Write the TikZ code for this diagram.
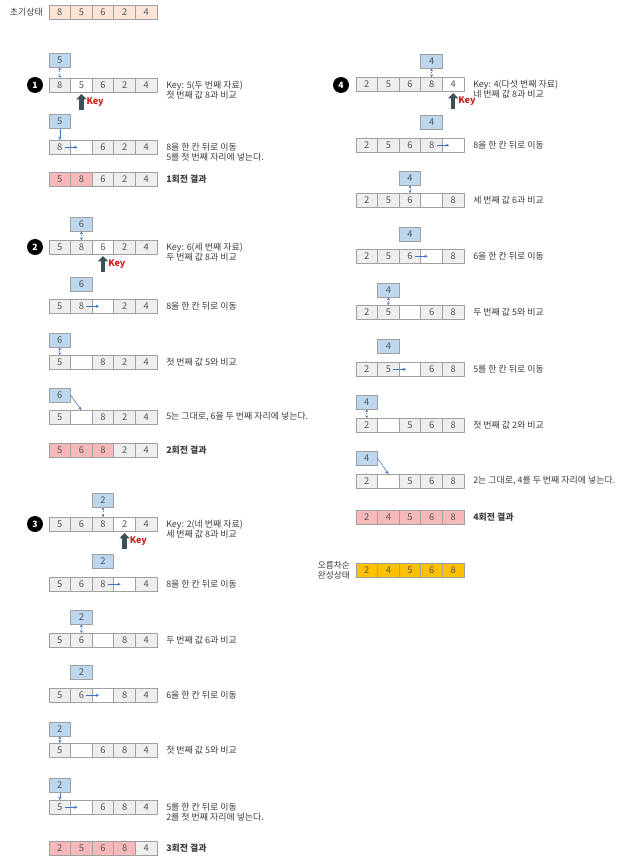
\documentclass[tikz,border=0pt]{standalone}
\usepackage{fontspec}
\setmainfont{Noto Sans CJK KR}
\usetikzlibrary{calc,arrows.meta}
\definecolor{txt}{HTML}{3F3F3F}
\definecolor{numtxt}{HTML}{555555}
\definecolor{grid}{HTML}{A0A0A0}
\definecolor{cellgray}{HTML}{EEEEEE}
\definecolor{keyblue}{HTML}{BDD7EE}
\definecolor{hlpink}{HTML}{F6B8B8}
\definecolor{peach}{HTML}{FCE4D6}
\definecolor{gold}{HTML}{FFC000}
\definecolor{lineblue}{HTML}{4472C4}
\definecolor{arrowdark}{HTML}{3C5055}
\definecolor{keyred}{HTML}{CC1F1F}

% one row of five cells: name prefix, left x, top y, value/style list
\newcommand\cellrow[4]{%
  \foreach \v/\s [count=\i] in {#4} {%
    \node[cell,\s] (#1-\i) at ({#2+(\i-0.5)*21.6},{#3+7.25}) {\v};
  }}
% the key value box above a row: name, left x, column, top y, value
\newcommand\keycell[5]{%
  \node[keybox] (#1) at ({#2+(#3-0.5)*21.6},{#4+7.25}) {#5};}
% thick arrow with the red "Key" tag under a cell
\newcommand\keymark[1]{%
  \draw[keyarrow] ($(#1.south)+(0,17)$) -- ($(#1.south)+(0,1.5)$);
  \node[keylbl,anchor=west] (#1-key) at ($(#1.south)+(5,10)$) {Key};}
% shift arrow from one cell's value into the next cell
\newcommand\shiftarrow[2]{%
  \draw[mv] ($(#1.center)+(5,0)$) -- ($(#2.center)+(-4,0)$);}

\begin{document}
\begin{tikzpicture}[x=0.75pt,y=-0.75pt,
  every node/.style={font=\fontsize{6.7}{8}\selectfont,text=txt},
  cell/.style={draw=grid,line width=0.5pt,minimum width=16.2pt,minimum height=10.9pt,
    inner sep=0pt,outer sep=0pt,font=\fontsize{7}{8}\selectfont,text=numtxt},
  nrm/.style={fill=cellgray},
  emp/.style={fill=white},
  hl/.style={fill=hlpink},
  ini/.style={fill=peach},
  fin/.style={fill=gold},
  keybox/.style={cell,fill=keyblue},
  lbl/.style={inner sep=0pt,font=\fontsize{6.7}{8}\selectfont},
  bold/.style={font=\fontsize{6.7}{8}\selectfont\bfseries},
  stepno/.style={circle,fill=black,text=white,minimum size=12pt,inner sep=0pt,
    font=\fontsize{6.5}{7}\selectfont\bfseries},
  keyarrow/.style={draw=arrowdark,line width=3.2pt,-{Triangle[length=4pt,width=7.5pt]}},
  keylbl/.style={inner sep=0pt,text=keyred,font=\fontsize{6.8}{8}\selectfont\bfseries},
  cmp/.style={draw=lineblue,line width=0.7pt,densely dotted,
    {Stealth[length=2pt,width=2.2pt]}-{Stealth[length=2pt,width=2.2pt]}},
  mv/.style={draw=lineblue,line width=0.4pt,-{Stealth[length=2.4pt,width=2.4pt]}},
]
\fill[white] (0,0) rectangle (642,859);
\useasboundingbox (0,0) rectangle (642,859);

% ---------- initial state ----------
\node[lbl,anchor=east] (lab0) at (43,12) {초기상태};
\cellrow{r0}{49}{5}{8/ini,5/ini,6/ini,2/ini,4/ini}

% ---------- pass 1 ----------
\node[stepno] (n1) at (35,85) {1};
\keycell{k1a}{49}{1}{53}{5}
\cellrow{r1a}{49}{78}{8/nrm,5/emp,6/nrm,2/nrm,4/nrm}
\draw[cmp] (k1a) -- (r1a-1);
\keymark{r1a-2}
\node[lbl,anchor=north west,align=left] (t1a) at (166,80.5) {Key: 5(두 번째 자료)\\첫 번째 값 8과 비교};

\keycell{k1b}{49}{1}{114}{5}
\cellrow{r1b}{49}{140}{8/nrm,{}/emp,6/nrm,2/nrm,4/nrm}
\draw[mv] (k1b) -- (r1b-1);
\shiftarrow{r1b-1}{r1b-2}
\node[lbl,anchor=north west,align=left] (t1b) at (166,142.5) {8을 한 칸 뒤로 이동\\5를 첫 번째 자리에 넣는다.};

\cellrow{r1c}{49}{172}{5/hl,8/hl,6/nrm,2/nrm,4/nrm}
\node[lbl,bold,anchor=west] (t1c) at (166,179) {1회전 결과};

% ---------- pass 2 ----------
\node[stepno] (n2) at (35,247) {2};
\keycell{k2a}{49}{2}{217}{6}
\cellrow{r2a}{49}{240}{5/nrm,8/nrm,6/emp,2/nrm,4/nrm}
\draw[cmp] (k2a) -- (r2a-2);
\keymark{r2a-3}
\node[lbl,anchor=north west,align=left] (t2a) at (166,242.5) {Key: 6(세 번째 자료)\\두 번째 값 8과 비교};

\keycell{k2b}{49}{2}{277}{6}
\cellrow{r2b}{49}{299}{5/nrm,8/nrm,{}/emp,2/nrm,4/nrm}
\shiftarrow{r2b-2}{r2b-3}
\node[lbl,anchor=west] (t2b) at (166,306) {8을 한 칸 뒤로 이동};

\keycell{k2c}{49}{1}{333}{6}
\cellrow{r2c}{49}{355}{5/nrm,{}/emp,8/nrm,2/nrm,4/nrm}
\draw[cmp] (k2c) -- (r2c-1);
\node[lbl,anchor=west] (t2c) at (166,362) {첫 번째 값 5와 비교};

\keycell{k2d}{49}{1}{388}{6}
\cellrow{r2d}{49}{410}{5/nrm,{}/emp,8/nrm,2/nrm,4/nrm}
\draw[mv] (k2d.east) -- (r2d-2.north);
\node[lbl,anchor=west] (t2d) at (166,417) {5는 그대로, 6을 두 번째 자리에 넣는다.};

\cellrow{r2e}{49}{443}{5/hl,6/hl,8/hl,2/nrm,4/nrm}
\node[lbl,bold,anchor=west] (t2e) at (166,450) {2회전 결과};

% ---------- pass 3 ----------
\node[stepno] (n3) at (35,524) {3};
\keycell{k3a}{49}{3}{493}{2}
\cellrow{r3a}{49}{517}{5/nrm,6/nrm,8/nrm,2/emp,4/nrm}
\draw[cmp] (k3a) -- (r3a-3);
\keymark{r3a-4}
\node[lbl,anchor=north west,align=left] (t3a) at (166,519.5) {Key: 2(네 번째 자료)\\세 번째 값 8과 비교};

\keycell{k3b}{49}{3}{554}{2}
\cellrow{r3b}{49}{577}{5/nrm,6/nrm,8/nrm,{}/emp,4/nrm}
\shiftarrow{r3b-3}{r3b-4}
\node[lbl,anchor=west] (t3b) at (166,584) {8을 한 칸 뒤로 이동};

\keycell{k3c}{49}{2}{610}{2}
\cellrow{r3c}{49}{633}{5/nrm,6/nrm,{}/emp,8/nrm,4/nrm}
\draw[cmp] (k3c) -- (r3c-2);
\node[lbl,anchor=west] (t3c) at (166,640) {두 번째 값 6과 비교};

\keycell{k3d}{49}{2}{665}{2}
\cellrow{r3d}{49}{688}{5/nrm,6/nrm,{}/emp,8/nrm,4/nrm}
\shiftarrow{r3d-2}{r3d-3}
\node[lbl,anchor=west] (t3d) at (166,695) {6을 한 칸 뒤로 이동};

\keycell{k3e}{49}{1}{722}{2}
\cellrow{r3e}{49}{743}{5/nrm,{}/emp,6/nrm,8/nrm,4/nrm}
\draw[cmp] (k3e) -- (r3e-1);
\node[lbl,anchor=west] (t3e) at (166,750) {첫 번째 값 5와 비교};

\keycell{k3f}{49}{1}{778}{2}
\cellrow{r3f}{49}{800}{5/nrm,{}/emp,6/nrm,8/nrm,4/nrm}
\draw[mv] (k3f) -- (r3f-1);
\shiftarrow{r3f-1}{r3f-2}
\node[lbl,anchor=north west,align=left] (t3f) at (166,802.5) {5를 한 칸 뒤로 이동\\2를 첫 번째 자리에 넣는다.};

\cellrow{r3g}{49}{841}{2/hl,5/hl,6/hl,8/hl,4/nrm}
\node[lbl,bold,anchor=west] (t3g) at (166,848) {3회전 결과};

% ---------- pass 4 ----------
\node[stepno] (n4) at (341,85) {4};
\keycell{k4a}{356}{4}{54}{4}
\cellrow{r4a}{356}{77}{2/nrm,5/nrm,6/nrm,8/nrm,4/emp}
\draw[cmp] (k4a) -- (r4a-4);
\keymark{r4a-5}
\node[lbl,anchor=north west,align=left] (t4a) at (473,79.5) {Key: 4(다섯 번째 자료)\\네 번째 값 8과 비교};

\keycell{k4b}{356}{4}{115}{4}
\cellrow{r4b}{356}{138}{2/nrm,5/nrm,6/nrm,8/nrm,{}/emp}
\shiftarrow{r4b-4}{r4b-5}
\node[lbl,anchor=west] (t4b) at (473,145) {8을 한 칸 뒤로 이동};

\keycell{k4c}{356}{3}{171}{4}
\cellrow{r4c}{356}{193}{2/nrm,5/nrm,6/nrm,{}/emp,8/nrm}
\draw[cmp] (k4c) -- (r4c-3);
\node[lbl,anchor=west] (t4c) at (473,200) {세 번째 값 6과 비교};

\keycell{k4d}{356}{3}{227}{4}
\cellrow{r4d}{356}{249}{2/nrm,5/nrm,6/nrm,{}/emp,8/nrm}
\shiftarrow{r4d-3}{r4d-4}
\node[lbl,anchor=west] (t4d) at (473,256) {6을 한 칸 뒤로 이동};

\keycell{k4e}{356}{2}{283}{4}
\cellrow{r4e}{356}{305}{2/nrm,5/nrm,{}/emp,6/nrm,8/nrm}
\draw[cmp] (k4e) -- (r4e-2);
\node[lbl,anchor=west] (t4e) at (473,312) {두 번째 값 5와 비교};

\keycell{k4f}{356}{2}{339}{4}
\cellrow{r4f}{356}{362}{2/nrm,5/nrm,{}/emp,6/nrm,8/nrm}
\shiftarrow{r4f-2}{r4f-3}
\node[lbl,anchor=west] (t4f) at (473,369) {5를 한 칸 뒤로 이동};

\keycell{k4g}{356}{1}{395}{4}
\cellrow{r4g}{356}{418}{2/nrm,{}/emp,5/nrm,6/nrm,8/nrm}
\draw[cmp] (k4g) -- (r4g-1);
\node[lbl,anchor=west] (t4g) at (473,425) {첫 번째 값 2와 비교};

\keycell{k4h}{356}{1}{451}{4}
\cellrow{r4h}{356}{474}{2/nrm,{}/emp,5/nrm,6/nrm,8/nrm}
\draw[mv] (k4h.east) -- (r4h-2.north);
\node[lbl,anchor=west] (t4h) at (473,481) {2는 그대로, 4를 두 번째 자리에 넣는다.};

\cellrow{r4i}{356}{510}{2/hl,4/hl,5/hl,6/hl,8/hl}
\node[lbl,bold,anchor=west] (t4i) at (473,517) {4회전 결과};

% ---------- sorted result ----------
\node[lbl,anchor=east,align=center,font=\fontsize{6.5}{7.3}\selectfont] (lab5) at (350,570.5) {오름차순\\완성상태};
\cellrow{r5}{356}{563}{2/fin,4/fin,5/fin,6/fin,8/fin}
\end{tikzpicture}
\end{document}
